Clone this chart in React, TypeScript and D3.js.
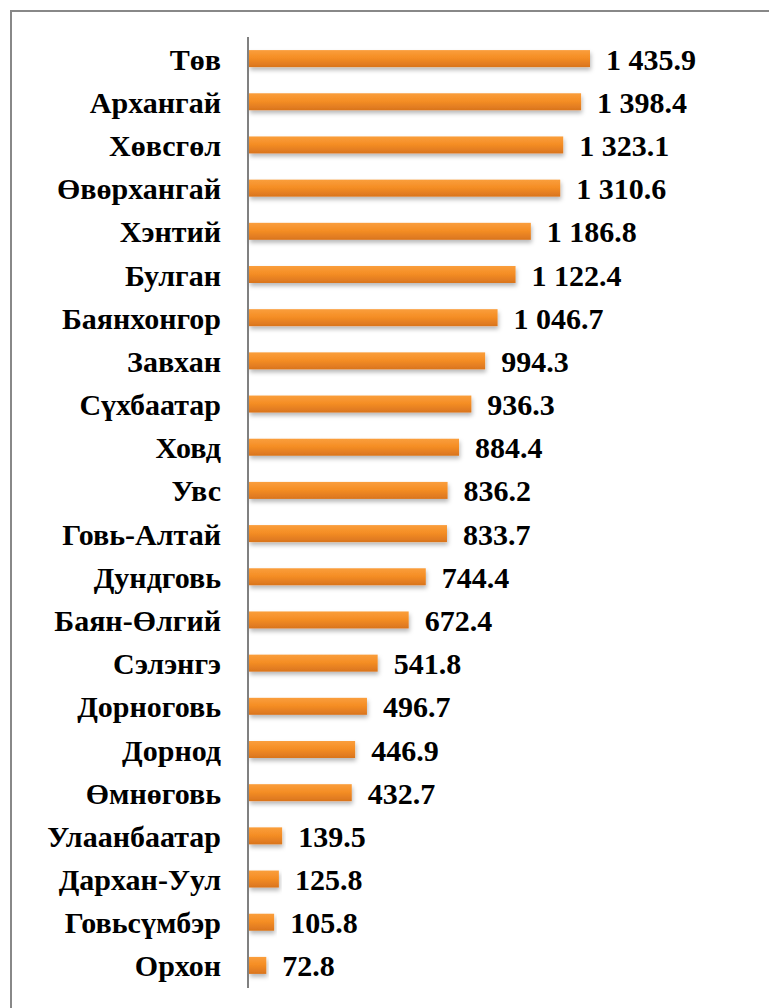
import React from "react";
import * as d3 from "d3";

const categories = [
  "Төв", "Архангай", "Хөвсгөл", "Өвөрхангай", "Хэнтий", "Булган", "Баянхонгор",
  "Завхан", "Сүхбаатар", "Ховд", "Увс", "Говь-Алтай", "Дундговь", "Баян-Өлгий",
  "Сэлэнгэ", "Дорноговь", "Дорнод", "Өмнөговь", "Улаанбаатар", "Дархан-Уул",
  "Говьсүмбэр", "Орхон",
];
const values = [
  1435.9, 1398.4, 1323.1, 1310.6, 1186.8, 1122.4, 1046.7, 994.3, 936.3, 884.4,
  836.2, 833.7, 744.4, 672.4, 541.8, 496.7, 446.9, 432.7, 139.5, 125.8, 105.8, 72.8,
];

const W = 769;
const H = 1008;

function fmt(v: number): string {
  const s = v.toFixed(1);
  const [intPart, dec] = s.split(".");
  const withSpace = intPart.replace(/\B(?=(\d{3})+(?!\d))/g, " ");
  return withSpace + "." + dec;
}

export default function App() {
  const axisX = 248;
  const x = d3.scaleLinear().domain([0, 1435.9]).range([axisX + 1, 590]);
  const y = d3.scaleBand<string>().domain(categories).range([37, 987]).padding(0);
  const barH = 17;
  const font = "Liberation Serif";

  return (
    <div style={{ position: "absolute", left: 0, top: 0 }}>
      <svg width={W} height={H} style={{ display: "block", background: "#fff" }}>
        <defs>
          <linearGradient id="barGrad" x1="0" y1="0" x2="0" y2="1">
            <stop offset="0%" stopColor="#FA9E3C" />
            <stop offset="45%" stopColor="#F58E25" />
            <stop offset="100%" stopColor="#D9741E" />
          </linearGradient>
          <filter id="shadow" x="-5%" y="-30%" width="115%" height="190%">
            <feDropShadow dx="1" dy="3" stdDeviation="2" floodColor="#000" floodOpacity="0.28" />
          </filter>
        </defs>
        <rect x={11} y={11} width={W + 20} height={H + 20} fill="none" stroke="#888" strokeWidth={2} />
        {categories.map((c, i) => {
          const cy = (y(c) as number) + y.bandwidth() / 2;
          const v = values[i];
          return (
            <g key={c}>
              <rect
                x={x(0)}
                y={cy - barH / 2}
                width={x(v) - x(0)}
                height={barH}
                fill="url(#barGrad)"
                filter="url(#shadow)"
              />
              <text
                x={221}
                y={cy + 11}
                textAnchor="end"
                style={{ fontFamily: font, fontWeight: 700, fontSize: 30 }}
                fill="#000"
              >
                {c}
              </text>
              <text
                x={x(v) + 16}
                y={cy + 11}
                textAnchor="start"
                style={{ fontFamily: font, fontWeight: 700, fontSize: 30 }}
                fill="#000"
              >
                {fmt(v)}
              </text>
            </g>
          );
        })}
        <line x1={axisX} x2={axisX} y1={37} y2={988} stroke="#808080" strokeWidth={2} />
      </svg>
    </div>
  );
}
